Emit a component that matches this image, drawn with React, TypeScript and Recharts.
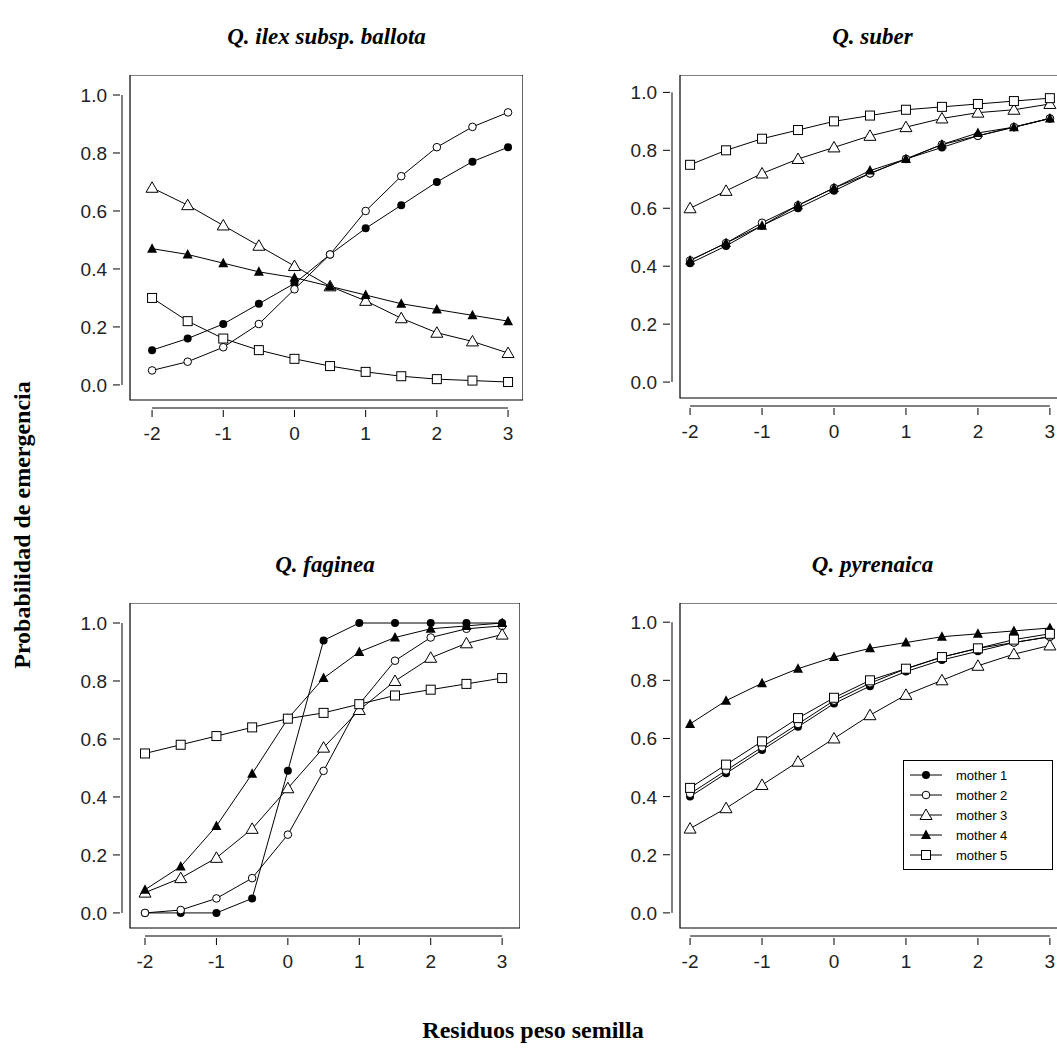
import React from 'react';
import { LineChart, Line, XAxis, YAxis, ReferenceArea, ReferenceLine } from 'recharts';

const xs = [-2, -1.5, -1, -0.5, 0, 0.5, 1, 1.5, 2, 2.5, 3];
const xTicks = [-2, -1, 0, 1, 2, 3];
const yTicks = [0, 0.2, 0.4, 0.6, 0.8, 1];
const mothers = ['mother 1', 'mother 2', 'mother 3', 'mother 4', 'mother 5'];
const shapes = ['fcircle', 'ocircle', 'otri', 'ftri', 'osquare'];

const ilex = [
  [0.12, 0.16, 0.21, 0.28, 0.35, 0.45, 0.54, 0.62, 0.70, 0.77, 0.82],
  [0.05, 0.08, 0.13, 0.21, 0.33, 0.45, 0.60, 0.72, 0.82, 0.89, 0.94],
  [0.68, 0.62, 0.55, 0.48, 0.41, 0.34, 0.29, 0.23, 0.18, 0.15, 0.11],
  [0.47, 0.45, 0.42, 0.39, 0.37, 0.34, 0.31, 0.28, 0.26, 0.24, 0.22],
  [0.30, 0.22, 0.16, 0.12, 0.09, 0.065, 0.045, 0.03, 0.02, 0.015, 0.01],
];
const suber = [
  [0.41, 0.47, 0.54, 0.60, 0.66, 0.72, 0.77, 0.81, 0.85, 0.88, 0.91],
  [0.42, 0.48, 0.55, 0.61, 0.67, 0.72, 0.77, 0.82, 0.85, 0.88, 0.91],
  [0.60, 0.66, 0.72, 0.77, 0.81, 0.85, 0.88, 0.91, 0.93, 0.94, 0.96],
  [0.42, 0.48, 0.54, 0.61, 0.67, 0.73, 0.77, 0.82, 0.86, 0.88, 0.91],
  [0.75, 0.80, 0.84, 0.87, 0.90, 0.92, 0.94, 0.95, 0.96, 0.97, 0.98],
];
const faginea = [
  [0, 0, 0, 0.05, 0.49, 0.94, 1.0, 1.0, 1.0, 1.0, 1.0],
  [0, 0.01, 0.05, 0.12, 0.27, 0.49, 0.72, 0.87, 0.95, 0.98, 0.99],
  [0.07, 0.12, 0.19, 0.29, 0.43, 0.57, 0.70, 0.80, 0.88, 0.93, 0.96],
  [0.08, 0.16, 0.30, 0.48, 0.67, 0.81, 0.90, 0.95, 0.98, 0.99, 1.0],
  [0.55, 0.58, 0.61, 0.64, 0.67, 0.69, 0.72, 0.75, 0.77, 0.79, 0.81],
];
const pyrenaica = [
  [0.40, 0.48, 0.56, 0.64, 0.72, 0.78, 0.83, 0.87, 0.90, 0.93, 0.95],
  [0.41, 0.49, 0.57, 0.65, 0.73, 0.79, 0.84, 0.88, 0.91, 0.93, 0.95],
  [0.29, 0.36, 0.44, 0.52, 0.60, 0.68, 0.75, 0.80, 0.85, 0.89, 0.92],
  [0.65, 0.73, 0.79, 0.84, 0.88, 0.91, 0.93, 0.95, 0.96, 0.97, 0.98],
  [0.43, 0.51, 0.59, 0.67, 0.74, 0.80, 0.84, 0.88, 0.91, 0.94, 0.96],
];

const sans = 'Liberation Sans, Arial, sans-serif';
const serif = 'Liberation Serif, Times New Roman, serif';

function Marker({ cx, cy, shape }: { cx: number; cy: number; shape: string }) {
  if (cx == null || cy == null) return null;
  switch (shape) {
    case 'fcircle':
      return <circle cx={cx} cy={cy} r={4} fill="#000" />;
    case 'ocircle':
      return <circle cx={cx} cy={cy} r={3.8} fill="#fff" stroke="#000" strokeWidth={1} />;
    case 'otri':
      return <polygon points={`${cx},${cy - 6} ${cx - 6},${cy + 4.5} ${cx + 6},${cy + 4.5}`} fill="#fff" stroke="#000" />;
    case 'ftri':
      return <polygon points={`${cx},${cy - 5.5} ${cx - 5},${cy + 4} ${cx + 5},${cy + 4}`} fill="#000" />;
    default:
      return <rect x={cx - 4.5} y={cy - 4.5} width={9} height={9} fill="#fff" stroke="#000" />;
  }
}

const XTick = ({ x, y, payload }: any) => (
  <g>
    <line x1={x} x2={x} y1={y + 8} y2={y + 15} stroke="#000" />
    <text x={x} y={y + 38} textAnchor="middle" fontFamily={sans} fontSize={19} fill="#222">{payload.value}</text>
  </g>
);
const YTick = ({ x, y, payload }: any) => (
  <g>
    <line x1={x - 8} x2={x - 15} y1={y} y2={y} stroke="#000" />
    <text x={x - 21} y={y + 7} textAnchor="end" fontFamily={sans} fontSize={19} fill="#222">{payload.value.toFixed(1)}</text>
  </g>
);

type PanelProps = {
  title: string; series: number[][]; left: number; top: number; boxW: number; boxH: number;
  xd: [number, number]; yd: [number, number]; legend?: boolean;
};

function Panel({ title, series, left, top, boxW, boxH, xd, yd, legend }: PanelProps) {
  const rows = xs.map((x, i) => {
    const r: any = { x };
    series.forEach((s, k) => (r['m' + k] = s[i]));
    return r;
  });
  const pxX = (xd[1] - xd[0]) / boxW;
  const pxY = (yd[1] - yd[0]) / boxH;
  return (
    <div style={{ position: 'absolute', left, top }}>
      <div style={{ position: 'absolute', left: 70, width: boxW, top: -51, textAlign: 'center', fontFamily: serif, fontWeight: 'bold', fontStyle: 'italic', fontSize: 23 }}>{title}</div>
      <LineChart width={70 + boxW} height={boxH + 60} data={rows} margin={{ top: 0, right: 0, left: 0, bottom: 0 }}>
        <XAxis dataKey="x" type="number" domain={xd} ticks={xTicks} axisLine={false} tickLine={false} tickSize={0} tick={<XTick />} height={60} allowDataOverflow />
        <YAxis type="number" domain={yd} ticks={yTicks} axisLine={false} tickLine={false} tickSize={0} tick={<YTick />} width={70} allowDataOverflow />
        <ReferenceArea x1={xd[0]} x2={xd[1]} y1={yd[0]} y2={yd[1]} fill="none" stroke="#000" strokeWidth={1.2} ifOverflow="visible" />
        <ReferenceLine segment={[{ x: -2, y: yd[0] - 8 * pxY }, { x: 3, y: yd[0] - 8 * pxY }]} stroke="#000" ifOverflow="visible" />
        <ReferenceLine segment={[{ x: xd[0] - 8 * pxX, y: 0 }, { x: xd[0] - 8 * pxX, y: 1 }]} stroke="#000" ifOverflow="visible" />
        {series.map((_, k) => (
          <Line key={k} dataKey={'m' + k} stroke="#000" strokeWidth={1} isAnimationActive={false}
            dot={(p: any) => <Marker key={k + '-' + p.index} cx={p.cx} cy={p.cy} shape={shapes[k]} />} />
        ))}
      </LineChart>
      {legend && (
        <div style={{ position: 'absolute', left: 70 + 223, top: 157, width: 148, border: '1px solid #000', background: '#fff', padding: '4px 0', fontFamily: sans, fontSize: 13 }}>
          {mothers.map((m, k) => (
            <div key={m} style={{ display: 'flex', alignItems: 'center', height: 20 }}>
              <svg width={44} height={16}>
                <line x1={6} x2={38} y1={8} y2={8} stroke="#000" />
                <Marker cx={22} cy={8} shape={shapes[k]} />
              </svg>
              <span style={{ marginLeft: 8 }}>{m}</span>
            </div>
          ))}
        </div>
      )}
    </div>
  );
}

export default function App() {
  return (
    <div style={{ position: 'absolute', left: 0, top: 0, width: 1057, height: 1050, background: '#fff', overflow: 'hidden' }}>
      <Panel title="Q. ilex subsp. ballota" series={ilex} left={60} top={75} boxW={393} boxH={325} xd={[-2.31, 3.21]} yd={[-0.052, 1.069]} />
      <Panel title="Q. suber" series={suber} left={610} top={75} boxW={385} boxH={323} xd={[-2.14, 3.21]} yd={[-0.055, 1.06]} />
      <Panel title="Q. faginea" series={faginea} left={60} top={603} boxW={390} boxH={325} xd={[-2.21, 3.25]} yd={[-0.052, 1.069]} />
      <Panel title="Q. pyrenaica" series={pyrenaica} left={610} top={603} boxW={385} boxH={325} xd={[-2.14, 3.21]} yd={[-0.052, 1.066]} legend />
      <div style={{ position: 'absolute', left: 22, top: 525, transform: 'translate(-50%, -50%) rotate(-90deg)', whiteSpace: 'nowrap', fontFamily: serif, fontWeight: 'bold', fontSize: 24 }}>Probabilidad de emergencia</div>
      <div style={{ position: 'absolute', left: 0, width: 1066, top: 1017, textAlign: 'center', fontFamily: serif, fontWeight: 'bold', fontSize: 24 }}>Residuos peso semilla</div>
    </div>
  );
}
